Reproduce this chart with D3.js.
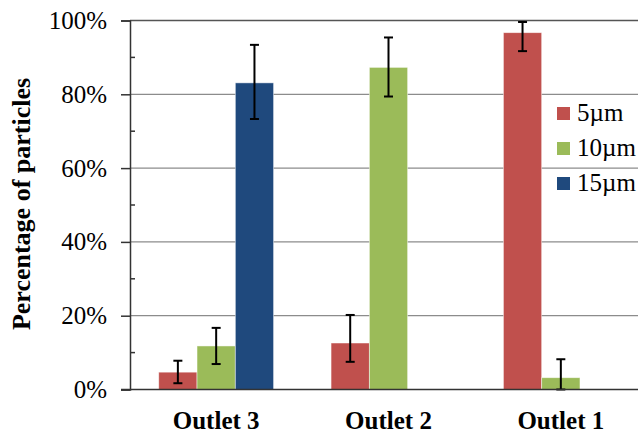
<!DOCTYPE html>
<html lang="en">
<head>
<meta charset="UTF-8">
<title>Percentage of particles</title>
<script src="https://cdn.jsdelivr.net/npm/d3@7"></script>
<style>
  body { margin: 0; background: #fff; }
  svg text { font-family: "Liberation Serif", "Times New Roman", serif; fill: #000; }
</style>
</head>
<body>
<div id="chart"></div>
<script>
// data (percent)
const categories = ["Outlet 3", "Outlet 2", "Outlet 1"];
const seriesNames = ["5\u00b5m", "10\u00b5m", "15\u00b5m"];
const values5 = [4.7, 12.6, 96.7];
const values10 = [11.8, 87.3, 3.2];
const values15 = [83.1, 0, 0];
// error bars: plus / minus
const errPlus5 = [3.1, 7.6, 2.9];
const errMinus5 = [3.0, 5.1, 5.0];
const errPlus10 = [4.9, 8.1, 5.0];
const errMinus10 = [4.9, 7.9, 3.2];
const errPlus15 = [10.3, 0, 0];
const errMinus15 = [9.8, 0, 0];
const yTicks = [0, 20, 40, 60, 80, 100];
const yMinorTicks = [10, 30, 50, 70, 90];

const colors = ["#C0504D", "#9BBB59", "#1F497D"];
const allValues = [values5, values10, values15];
const allPlus = [errPlus5, errPlus10, errPlus15];
const allMinus = [errMinus5, errMinus10, errMinus15];

const width = 638, height = 434;
const plotLeft = 130, plotRight = 647, plotTop = 20.5, plotBottom = 389.5;
const serif = "'Liberation Serif', 'Times New Roman', serif";

const svg = d3.select("#chart").append("svg")
    .attr("width", width)
    .attr("height", height)
    .attr("font-family", serif);

const x0 = d3.scaleBand()
    .domain(categories)
    .range([plotLeft, plotRight])
    .paddingInner(1 / 3)
    .paddingOuter(1 / 6);

const x1 = d3.scaleBand()
    .domain(seriesNames)
    .range([0, x0.bandwidth()]);

const y = d3.scaleLinear()
    .domain([0, 100])
    .range([plotBottom, plotTop]);

// gridlines
svg.append("g")
    .selectAll("line")
    .data(yTicks.filter(d => d > 0))
    .enter().append("line")
    .attr("x1", plotLeft).attr("x2", plotRight)
    .attr("y1", d => y(d)).attr("y2", d => y(d))
    .attr("stroke", d => d === 100 ? "#555" : "#8c8c8c")
    .attr("stroke-width", d => d === 100 ? 1.5 : 1.2);

// rows of data per category
const rows = categories.map((c, i) => seriesNames.map((s, j) => ({
    cat: c, name: s, value: allValues[j][i],
    plus: allPlus[j][i], minus: allMinus[j][i], color: colors[j]
})));

const groups = svg.append("g")
    .selectAll("g")
    .data(rows)
    .enter().append("g")
    .attr("transform", (d, i) => `translate(${x0(categories[i])},0)`);

groups.selectAll("rect")
    .data(d => d)
    .enter().append("rect")
    .attr("x", d => x1(d.name))
    .attr("width", x1.bandwidth())
    .attr("y", d => y(d.value))
    .attr("height", d => y(0) - y(d.value))
    .attr("fill", d => d.color)
    .attr("stroke", d => d.value > 0 ? "rgba(255,255,255,0.6)" : "#bbb")
    .attr("stroke-width", 0.8);

// error bars
const eb = groups.selectAll("g.err")
    .data(d => d.filter(v => v.plus > 0))
    .enter().append("g")
    .attr("class", "err")
    .attr("stroke", "#000")
    .attr("stroke-width", 2);

const cx = d => x1(d.name) + x1.bandwidth() / 2;
const hi = d => y(d.value + d.plus);
const lo = d => y(d.value - d.minus);
const capW = 4.5;
eb.append("line")
    .attr("x1", cx).attr("x2", cx)
    .attr("y1", hi)
    .attr("y2", lo);
eb.append("line")
    .attr("x1", d => cx(d) - capW).attr("x2", d => cx(d) + capW)
    .attr("y1", hi).attr("y2", hi);
eb.append("line")
    .attr("x1", d => cx(d) - capW).attr("x2", d => cx(d) + capW)
    .attr("y1", lo).attr("y2", lo);

// y axis
const yAxis = svg.append("g")
    .attr("transform", `translate(${plotLeft},0)`)
    .call(d3.axisLeft(y).tickValues(yTicks).tickFormat(d => d + "%").tickSize(9).tickPadding(14));
yAxis.attr("font-family", serif);
yAxis.select(".domain").attr("stroke", "#333").attr("stroke-width", 1.5);
yAxis.selectAll(".tick line").attr("stroke", "#333").attr("stroke-width", 1.5);
yAxis.selectAll(".tick text")
    .style("font-family", serif)
    .style("font-size", "25px")
    .attr("fill", "#000");

// minor ticks (inside)
svg.append("g")
    .selectAll("line")
    .data(yMinorTicks)
    .enter().append("line")
    .attr("x1", plotLeft).attr("x2", plotLeft + 5)
    .attr("y1", d => y(d)).attr("y2", d => y(d))
    .attr("stroke", "#333")
    .attr("stroke-width", 1.5);

// x axis line
svg.append("line")
    .attr("x1", plotLeft - 9).attr("x2", plotRight)
    .attr("y1", plotBottom).attr("y2", plotBottom)
    .attr("stroke", "#333")
    .attr("stroke-width", 1.5);

// category labels
svg.append("g")
    .selectAll("text")
    .data(categories)
    .enter().append("text")
    .attr("x", d => x0(d) + x0.bandwidth() / 2)
    .attr("y", 429)
    .attr("text-anchor", "middle")
    .style("font-family", serif)
    .style("font-size", "25px")
    .style("font-weight", "bold")
    .text(d => d);

// y title
svg.append("text")
    .attr("transform", "translate(30,204) rotate(-90)")
    .attr("text-anchor", "middle")
    .style("font-family", serif)
    .style("font-size", "26px")
    .style("font-weight", "bold")
    .text("Percentage of particles");

// legend
const legend = svg.append("g")
    .selectAll("g")
    .data(seriesNames)
    .enter().append("g")
    .attr("transform", (d, i) => `translate(557,${107 + i * 35})`);
legend.append("rect")
    .attr("width", 13).attr("height", 13)
    .attr("fill", (d, i) => colors[i]);
legend.append("text")
    .attr("x", 20)
    .attr("y", 14)
    .style("font-family", serif)
    .style("font-size", "25px")
    .text(d => d);
</script>
</body>
</html>
